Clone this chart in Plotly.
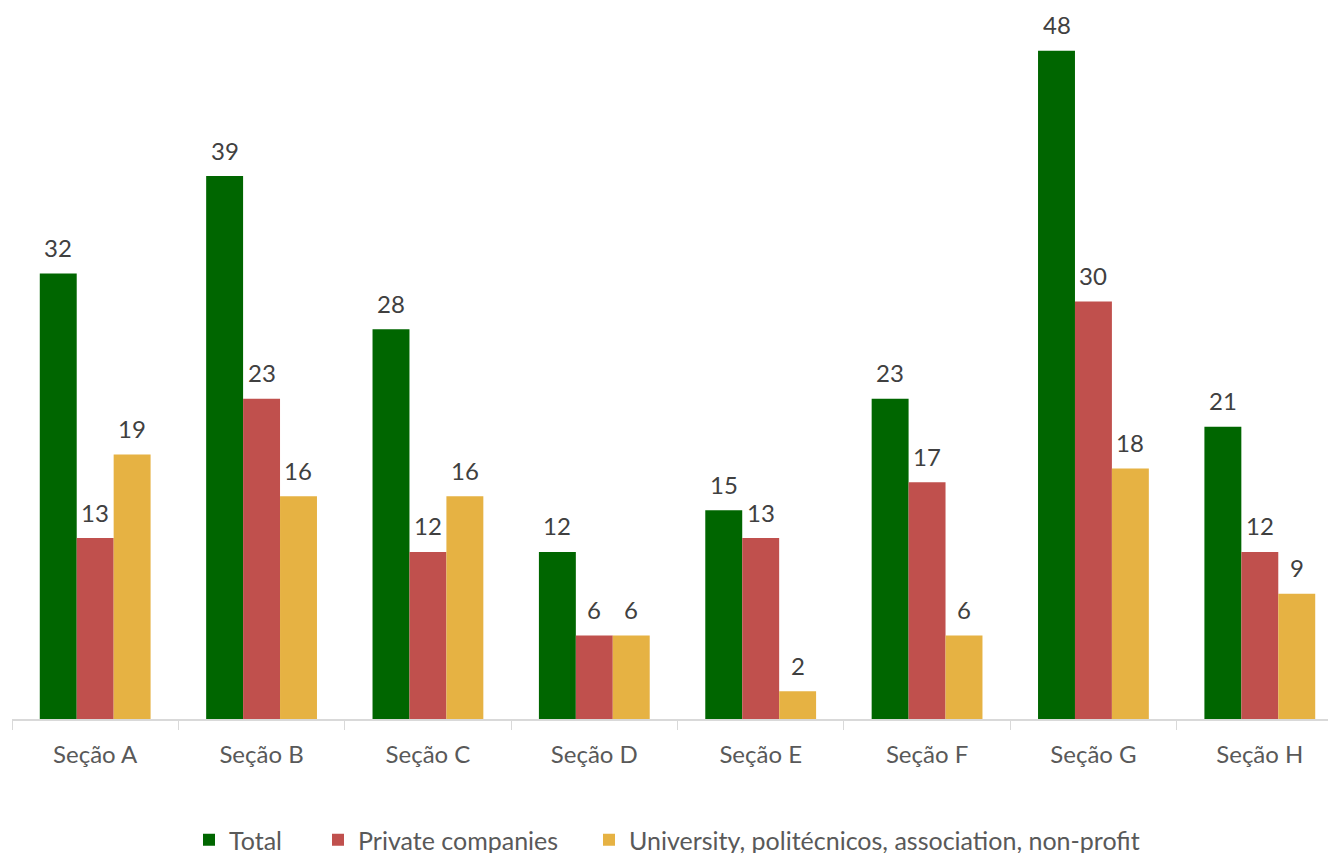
import plotly.graph_objects as go

categories = ["Seção A", "Seção B", "Seção C", "Seção D", "Seção E", "Seção F", "Seção G", "Seção H"]
total = [32, 39, 28, 12, 15, 23, 48, 21]
private = [13, 23, 12, 6, 13, 17, 30, 12]
university = [19, 16, 16, 6, 2, 6, 18, 9]

series = [
    ("Total", total, "#006600"),
    ("Private companies", private, "#C0504D"),
    ("University, politécnicos, association, non-profit", university, "#E6B243"),
]
legend_text_x = [229, 358, 629]  # px where each legend label starts

# The reference chart extends slightly past the right edge of the window.
W, H = 1346, 853
ml, mr, mt, mb = 12, 3, 23, 134
bargap = 0.334
font_family = "Lato, Open Sans, sans-serif"
fs_tick = 24
fs_label = 24
fs_legend = 25

fig = go.Figure()
legend_names = ["legend", "legend2", "legend3"]
for (name, vals, color), lg in zip(series, legend_names):
    fig.add_trace(go.Bar(x=categories, y=vals, name=name, marker_color=color,
                         marker_line_width=0, legend=lg))

plot_w = W - ml - mr
bar_px = plot_w / len(categories) * (1 - bargap) / len(series)
for i, (name, vals, color) in enumerate(series):
    for c, v in zip(categories, vals):
        fig.add_annotation(x=c, y=v, text=str(v), showarrow=False,
                           xshift=(i - 1) * bar_px, yshift=26, yanchor="middle",
                           font=dict(size=fs_label, color="#404040", family=font_family))

legend_common = dict(orientation="h", xref="container", yref="container",
                     xanchor="left", yanchor="middle", y=1 - 840 / H,
                     font=dict(size=fs_legend, color="#595959"), itemwidth=30,
                     bgcolor="rgba(0,0,0,0)")
legend_layouts = {}
for lg, tx in zip(legend_names, legend_text_x):
    legend_layouts[lg] = dict(legend_common, x=(tx - 40) / W)

fig.update_layout(
    width=W, height=H,
    margin=dict(l=ml, r=mr, t=mt, b=mb, autoexpand=False),
    barmode="group", bargap=bargap, bargroupgap=0,
    plot_bgcolor="white", paper_bgcolor="white",
    font=dict(family=font_family, size=fs_tick, color="#595959"),
    showlegend=True,
    xaxis=dict(showline=True, linecolor="#d9d9d9", linewidth=1.5, automargin=False,
               ticks="outside", tickson="boundaries", ticklen=9, tickcolor="#d9d9d9",
               ticklabelstandoff=13,
               tickfont=dict(size=fs_tick, color="#595959"), showgrid=False),
    yaxis=dict(range=[0, 50], visible=False, showgrid=False, automargin=False),
    **legend_layouts,
)

fig.write_html("out.html", config={"displayModeBar": False},
               post_script="document.body.style.margin='0';document.body.style.overflow='hidden';")
